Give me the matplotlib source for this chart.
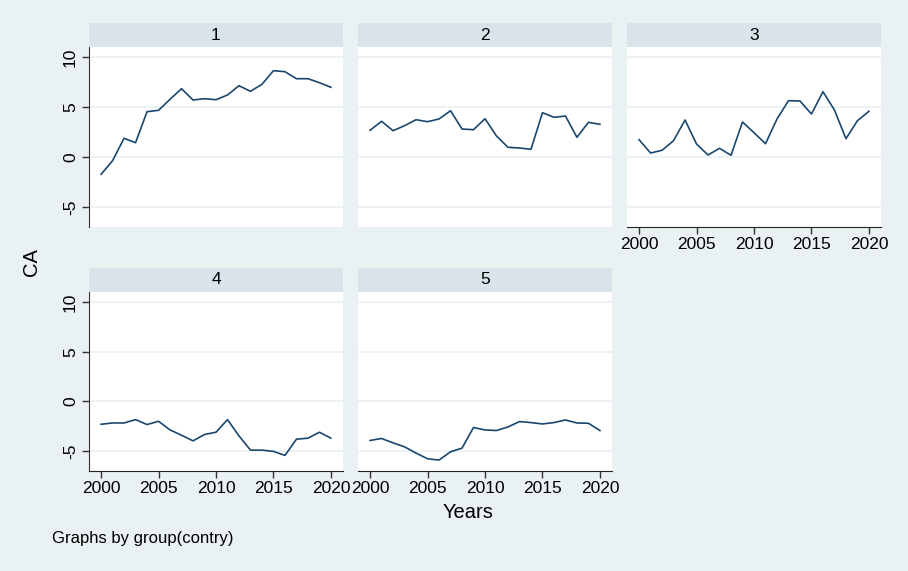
#!/usr/bin/env python3
"""Stata-style by-group line plots of CA over years."""

import matplotlib

matplotlib.use("Agg")
import matplotlib.pyplot as plt

plt.rcParams["font.family"] = ["Liberation Sans", "DejaVu Sans"]
plt.rcParams["axes.unicode_minus"] = False

years = list(range(2000, 2021))
groups = ["1", "2", "3", "4", "5"]

ca_1 = [-1.73, -0.37, 1.87, 1.43, 4.53, 4.67, 5.77, 6.83, 5.70, 5.83, 5.73,
        6.20, 7.13, 6.57, 7.27, 8.63, 8.53, 7.83, 7.83, 7.43, 6.97]
ca_2 = [2.67, 3.57, 2.63, 3.13, 3.73, 3.53, 3.80, 4.63, 2.80, 2.73, 3.83,
        2.10, 0.97, 0.90, 0.77, 4.43, 3.97, 4.10, 1.97, 3.47, 3.27]
ca_3 = [1.73, 0.40, 0.67, 1.63, 3.70, 1.30, 0.20, 0.87, 0.17, 3.50, 2.43,
        1.33, 3.80, 5.63, 5.60, 4.30, 6.53, 4.70, 1.83, 3.63, 4.57]
ca_4 = [-2.30, -2.17, -2.17, -1.83, -2.33, -2.00, -2.87, -3.40, -3.97, -3.33, -3.10,
        -1.83, -3.47, -4.90, -4.90, -5.03, -5.43, -3.80, -3.70, -3.10, -3.70]
ca_5 = [-3.93, -3.73, -4.17, -4.57, -5.20, -5.77, -5.90, -5.07, -4.70, -2.63, -2.87,
        -2.93, -2.57, -2.03, -2.13, -2.27, -2.13, -1.87, -2.17, -2.20, -2.93]
series = [ca_1, ca_2, ca_3, ca_4, ca_5]

y_ticks = [-5, 0, 5, 10]
x_ticks = [2000, 2005, 2010, 2015, 2020]

BG = "#e9f1f3"
STRIP = "#d8e4ea"
LINE = "#1a476f"
W, H = 908, 571

# pixel boxes of the plot regions (left, top, right, bottom)
cols = [(89, 343), (358, 612), (627, 881)]
rows = [(47, 227), (292, 471)]
strip_h = 24

fig = plt.figure(figsize=(W / 100, H / 100), dpi=100, facecolor=BG)


def px_box(l, t, r, b):
    return [l / W, 1 - b / H, (r - l) / W, (b - t) / H]


for i, (name, vals) in enumerate(zip(groups, series)):
    row, col = divmod(i, 3)
    l, r = cols[col]
    t, b = rows[row]
    ax = fig.add_axes(px_box(l, t, r, b))
    ax.set_facecolor("white")
    ax.plot(years, vals, color=LINE, linewidth=1.2)
    ax.set_xlim(1998.95, 2021.05)
    ax.set_ylim(-7, 11)
    for v in [-5, 0, 5, 10]:
        ax.axhline(v, color=BG, linewidth=1.2, zorder=0)
    for s in ax.spines.values():
        s.set_visible(False)

    show_y = col == 0
    show_x = row == 1 or col == 2
    ax.set_yticks(y_ticks)
    ax.set_xticks(x_ticks)
    if show_y:
        ax.spines["left"].set_visible(True)
        ax.spines["left"].set_color("#333333")
        ax.tick_params(axis="y", length=5, width=1, color="#333333", labelsize=12.5, pad=3)
        for lab in ax.get_yticklabels():
            lab.set_rotation(90)
            lab.set_va("center")
    else:
        ax.tick_params(axis="y", left=False, labelleft=False)
    if show_x:
        ax.spines["bottom"].set_visible(True)
        ax.spines["bottom"].set_color("#222222")
        ax.tick_params(axis="x", length=5, width=1, color="#333333", labelsize=12.5, pad=2)
    else:
        ax.tick_params(axis="x", bottom=False, labelbottom=False)

    sax = fig.add_axes(px_box(l, t - strip_h, r, t))
    sax.set_facecolor(STRIP)
    sax.set_xticks([])
    sax.set_yticks([])
    for s in sax.spines.values():
        s.set_visible(False)
    sax.text(0.5, 0.5, name, ha="center", va="center", fontsize=12.5, transform=sax.transAxes)

fig.text(32 / W, 1 - 262 / H, "CA", rotation=90, ha="center", va="center", fontsize=14.5)
fig.text(468 / W, 1 - 512 / H, "Years", ha="center", va="center", fontsize=14.5)
fig.text(52 / W, 1 - 538 / H, "Graphs by group(contry)", ha="left", va="center", fontsize=12)

fig.savefig("out.png", dpi=100, facecolor=BG)
plt.close(fig)
